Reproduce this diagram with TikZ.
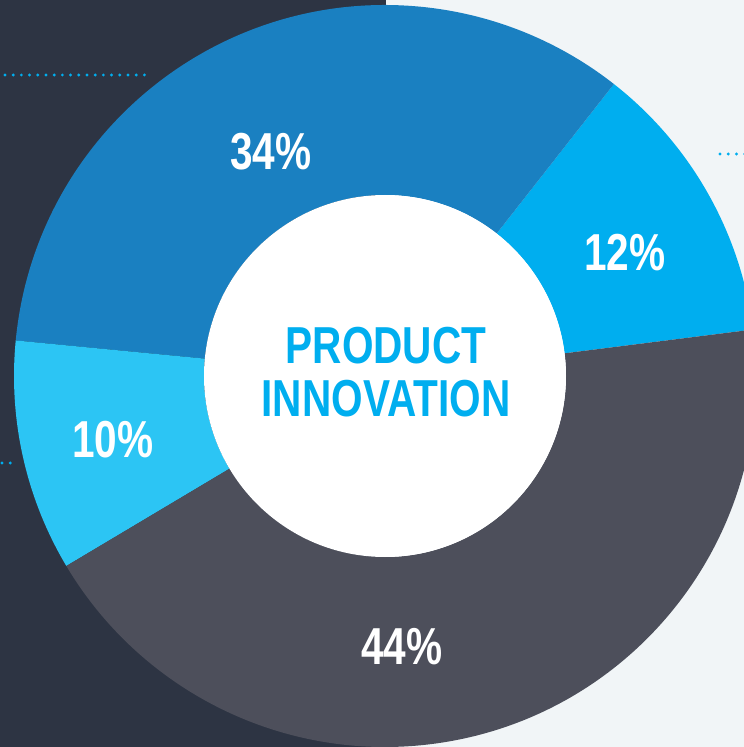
\documentclass[tikz,border=0pt]{standalone}
\usepackage{fontspec}
\usepackage{tikz}
\usetikzlibrary{positioning}
\newfontfamily\condfont[FakeStretch=0.78]{Liberation Sans}
\definecolor{bgdark}{HTML}{2D3443}
\definecolor{bglight}{HTML}{F1F5F7}
\definecolor{sliceblue}{HTML}{1A80C1}
\definecolor{slicecyan}{HTML}{00AEEF}
\definecolor{slicesky}{HTML}{2CC5F4}
\definecolor{slicegrey}{HTML}{4D4F5B}
\tikzset{x=1pt, y=1pt,
  pct/.style={text=white, font=\condfont\bfseries\fontsize{52}{52}\selectfont, inner sep=0pt},
  title/.style={text=slicecyan, font=\condfont\bfseries\fontsize{52}{53}\selectfont, align=center, inner sep=0pt},
  dots/.style={slicecyan, line width=3.2pt, line cap=round, dash pattern=on 0pt off 8.2pt}}

\begin{document}
\begin{tikzpicture}

           % background
           \useasboundingbox (-385,-371) rectangle (359,376);
           \fill[bglight] (-385,-371) rectangle (359,376);
           \fill[bgdark] (-385,-371) rectangle (1,376);

           \coordinate (d1a) at (-380,301);
           \coordinate (d1b) at (-238,301);
           \coordinate (d2a) at (335,222);
           \coordinate (d2b) at (360,222);
           \coordinate (d3a) at (-383,-87);
           \coordinate (d3b) at (-371,-87);
           \draw[dots] (d1a) -- (d1b);
           \draw[dots] (d2a) -- (d2b);
           \draw[dots] (d3a) -- (d3b);

           % slices
           \foreach \from/\to/\col in {7.2/51.9/slicecyan, 51.9/174.5/sliceblue,
                                       174.5/210.8/slicesky, 210.8/367.2/slicegrey}
             \fill[\col] (\from:181pt) arc[start angle=\from, end angle=\to, radius=181pt]
                -- (\to:371pt) arc[start angle=\to, end angle=\from, radius=371pt] -- cycle;
           \fill[white] (0,0) circle (181pt);

           \node[pct] (p12) at (240,123) {12\%};
           \node[pct] (p34) at (-114,224) {34\%};
           \node[pct] (p10) at (-272,-64) {10\%};
           \node[pct] (p44) at (17,-271) {44\%};
           \node[title] (hub) at (1,4) {PRODUCT\\INNOVATION};

         \end{tikzpicture}
\end{document}
